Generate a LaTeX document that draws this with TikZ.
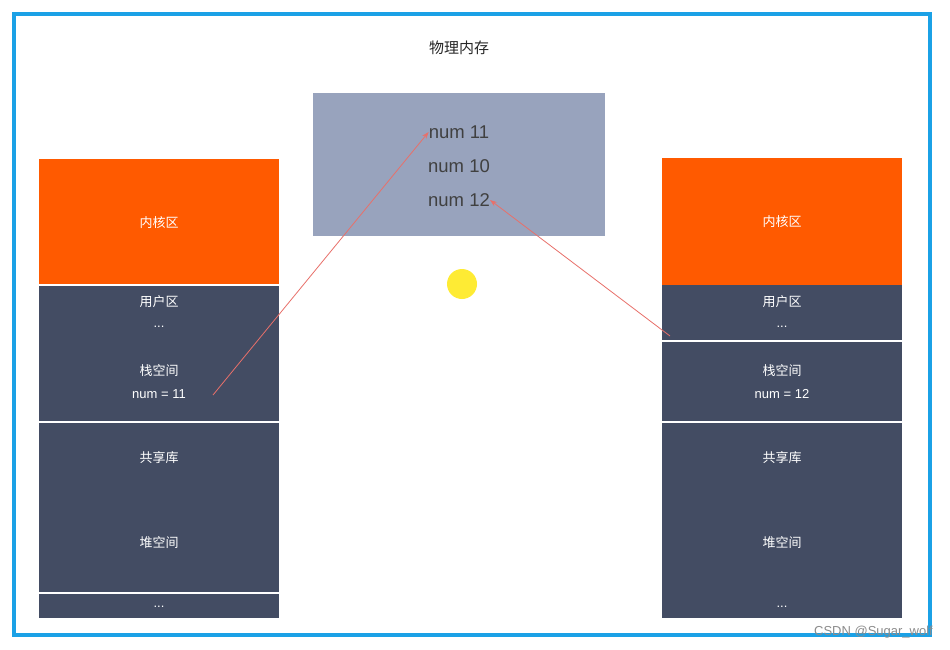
\documentclass[tikz,border=0pt]{standalone}
\usepackage{fontspec}
\setmainfont{Liberation Sans}
\newfontfamily\cjk{Noto Sans CJK SC}
\usetikzlibrary{arrows.meta}
\definecolor{dark}{HTML}{434C63}
\definecolor{orng}{HTML}{FF5A00}
\definecolor{gbox}{HTML}{98A3BD}
\definecolor{frame}{HTML}{1BA1E6}
\definecolor{arr}{HTML}{E8706A}
\tikzset{
  lbl/.style={text=white,font=\cjk\fontsize{13}{15}\selectfont,inner sep=0pt},
  nlbl/.style={text=white,font=\fontsize{13}{15}\selectfont,inner sep=0pt},
  big/.style={text=black!75,font=\fontsize{18.5}{22}\selectfont,inner sep=0pt},
  divl/.style={white,line width=1.5pt},
  conn/.style={arr,line width=0.8pt,-{Stealth[length=7pt,width=5pt]}}
}
\begin{document}
\begin{tikzpicture}[x=1pt,y=-1pt]
\useasboundingbox (0,0) rectangle (950,649);
\fill[white] (0,0) rectangle (950,649);
\draw[frame,line width=4pt] (14,14) rectangle (930,635);
\node[font=\cjk\fontsize{15}{18}\selectfont,text=black!85] (title) at (459,48) {物理内存};
\fill[gbox] (313,93) rectangle (605,236);
\node[big] (n11) at (459,132) {num 11};
\node[big] (n10) at (459,166) {num 10};
\node[big] (n12) at (459,200) {num 12};
% left column
\fill[orng] (39,159) rectangle (279,285);
\fill[dark] (39,285) rectangle (279,618);
\draw[divl] (39,285) -- (279,285);
\draw[divl] (39,422) -- (279,422);
\draw[divl] (39,593) -- (279,593);
\node[lbl] (lk) at (159,223) {内核区};
\node[lbl] (lu) at (159,302) {用户区};
\node[nlbl] (ld1) at (159,327) {...};
\node[lbl] (ls) at (159,371) {栈空间};
\node[nlbl] (ln) at (159,394) {num = 11};
\node[lbl] (lg) at (159,458) {共享库};
\node[lbl] (lh) at (159,543) {堆空间};
\node[nlbl] (ld2) at (159,607) {...};
% right column
\fill[orng] (662,158) rectangle (902,285);
\fill[dark] (662,285) rectangle (902,618);
\draw[divl] (662,341) -- (902,341);
\draw[divl] (662,422) -- (902,422);
\node[lbl] (rk) at (782,222) {内核区};
\node[lbl] (ru) at (782,302) {用户区};
\node[nlbl] (rd1) at (782,327) {...};
\node[lbl] (rs) at (782,371) {栈空间};
\node[nlbl] (rn) at (782,394) {num = 12};
\node[lbl] (rg) at (782,458) {共享库};
\node[lbl] (rh) at (782,543) {堆空间};
\node[nlbl] (rd2) at (782,607) {...};
% arrows
\coordinate (la) at (213,395);
\coordinate (ra) at (670,336);
\draw[conn] (la) -- (n11.west);
\draw[conn] (ra) -- (n12.east);
% pointer highlight
\fill[yellow!90!orange,opacity=0.8] (462,284) circle (15);
\node[font=\fontsize{13}{15}\selectfont,text=black!45,anchor=south east,inner sep=0pt] (wm) at (933,638) {CSDN @Sugar\_wolf};
\end{tikzpicture}
\end{document}
